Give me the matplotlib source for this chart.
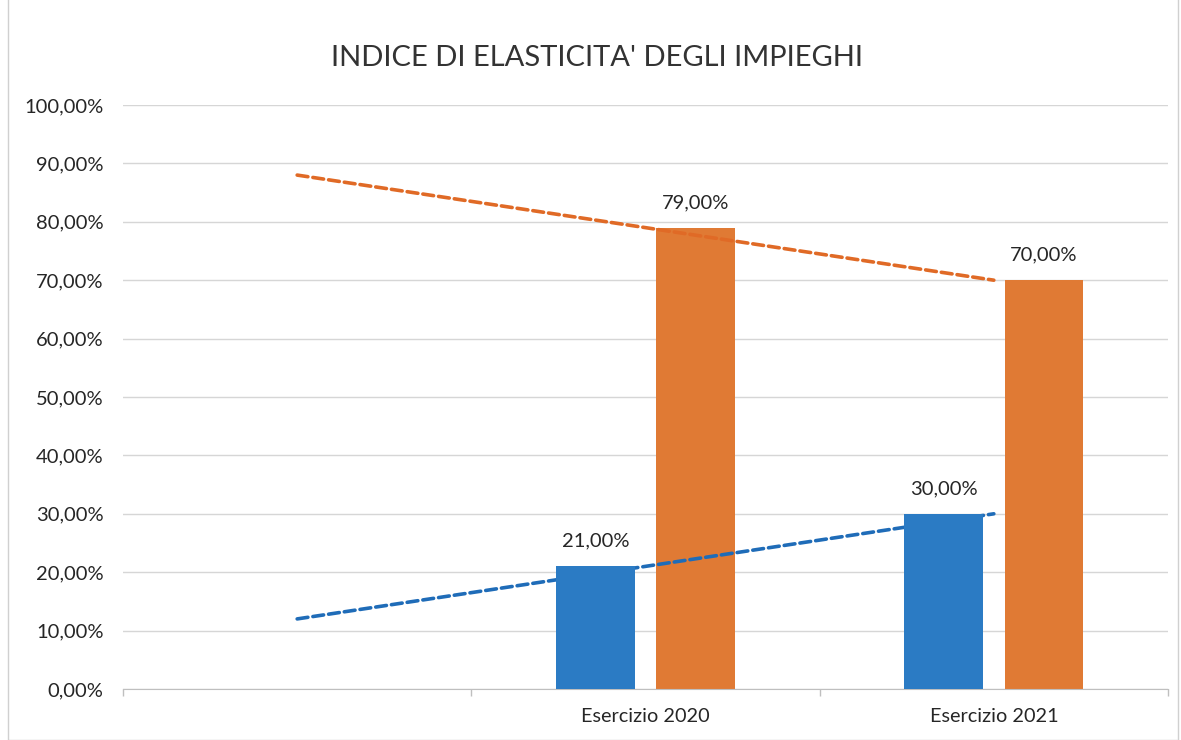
import numpy as np
import matplotlib
matplotlib.use("Agg")
import matplotlib.pyplot as plt
from matplotlib.patches import Rectangle

plt.rcParams['font.family'] = ['Lato', 'DejaVu Sans']

# Data
categories = ["", "Esercizio 2020", "Esercizio 2021"]
series_a = [np.nan, 21.0, 30.0]   # blue
series_b = [np.nan, 79.0, 70.0]   # orange
title = "INDICE DI ELASTICITA' DEGLI IMPIEGHI"
yticks = [0, 10, 20, 30, 40, 50, 60, 70, 80, 90, 100]

blue = "#2b7bc4"
orange = "#e07a34"
blue_trend = "#1f6cb8"
orange_trend = "#e06a26"

fig = plt.figure(figsize=(11.81, 7.40), dpi=100)
ax = fig.add_axes([123/1181, 1 - 689/740, (1168 - 123)/1181, (689 - 105)/740])

x = np.arange(len(categories))
off = 0.144
w = 0.225
a = np.array(series_a)
b = np.array(series_b)
ax.bar(x - off, a, width=w, color=blue, zorder=4)
ax.bar(x + off, b, width=w, color=orange, zorder=2)

# data labels
def fmt(v):
    return f"{v:.2f}".replace(".", ",") + "%"

for xi, v in zip(x, a):
    if not np.isnan(v):
        ax.annotate(fmt(v), (xi - off, v), xytext=(0, 12), textcoords="offset points",
                    ha="center", va="bottom", fontsize=14.5, color="#262626", zorder=5)
for xi, v in zip(x, b):
    if not np.isnan(v):
        ax.annotate(fmt(v), (xi + off, v), xytext=(0, 12), textcoords="offset points",
                    ha="center", va="bottom", fontsize=14.5, color="#262626", zorder=5)

# linear trendlines computed from the data, extended over all categories
for vals, col in ((a, blue_trend), (b, orange_trend)):
    m = ~np.isnan(vals)
    k, c = np.polyfit(x[m], vals[m], 1)
    ax.plot(x, k * x + c, color=col, lw=2.6, ls=(0, (3, 1.4)), zorder=3,
            solid_capstyle="round", dash_capstyle="round")

ax.set_xlim(-0.5, len(categories) - 0.5)
ax.set_ylim(0, 100)
ax.set_yticks(yticks)
ax.set_yticklabels([fmt(t) for t in yticks], fontsize=14.5, color="#262626")
ax.set_xticks(x)
ax.set_xticklabels(categories, fontsize=14.3, color="#262626")
ax.set_xticks(np.arange(len(categories) + 1) - 0.5, minor=True)
ax.tick_params(axis="x", which="major", length=0, pad=14)
ax.tick_params(axis="x", which="minor", length=5, color="#bfbfbf", width=1)
ax.tick_params(axis="y", length=0, pad=14)
ax.yaxis.grid(True, color="#d6d6d6", lw=1, zorder=0)
ax.set_axisbelow(True)
for s in ("top", "right", "left"):
    ax.spines[s].set_visible(False)
ax.spines["bottom"].set_color("#bfbfbf")

fig.text(597/1181, 1 - 58/740, title, ha="center", va="center", fontsize=21, color="#333333")

fig.patches.append(Rectangle((8/1181, 0.0), (1178 - 8)/1181, 1.2, transform=fig.transFigure,
                             fill=False, edgecolor="#d0d0d0", lw=1))

fig.savefig("out.png", dpi=100)
